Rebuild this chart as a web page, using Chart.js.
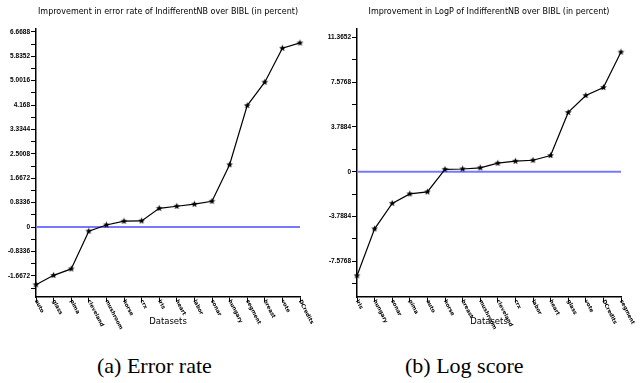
<!DOCTYPE html>
<html>
<head>
<meta charset="utf-8">
<script src="https://cdn.jsdelivr.net/npm/chart.js@4.4.0/dist/chart.umd.min.js"></script>
<style>
  body { margin: 0; background: #fff; width: 641px; height: 383px; position: relative; overflow: hidden; }
  .panel { position: absolute; top: 0; height: 331px; }
  #p1 { left: 0; width: 320px; }
  #p2 { left: 320px; width: 321px; }
  .cap { position: absolute; top: 353px; font: 22px "Liberation Serif", "Times New Roman", serif; color: #000; white-space: nowrap; }
</style>
</head>
<body>
<div class="panel" id="p1"><canvas id="errChart" width="320" height="331"></canvas></div>
<div class="panel" id="p2"><canvas id="logChart" width="321" height="331"></canvas></div>
<div class="cap" style="left:97px">(a) Error rate</div>
<div class="cap" style="left:405px">(b) Log score</div>
<script>
// ── Data ─────────────────────────────────────────────────────
const errorCategories = ['auto', 'glass', 'pima', 'cleveland', 'mushroom', 'horse', 'crx', 'iris',
  'heart', 'labor', 'sonar', 'hungary', 'segment', 'breast', 'vote', 'DCredits'];
const errorValues = [-1.97, -1.65, -1.43, -0.14, 0.07, 0.20, 0.21, 0.64,
  0.71, 0.78, 0.88, 2.13, 4.15, 4.95, 6.11, 6.29];
const errorTicks = [-1.6672, -0.8336, 0, 0.8336, 1.6672, 2.5008, 3.3344, 4.168, 5.0016, 5.8352, 6.6688];
const errorMinorTicks = [-2.084, -1.2504, -0.4168, 0.4168, 1.2504, 2.084, 2.9176, 3.7512, 4.5848, 5.4184, 6.252];

const logpCategories = ['iris', 'hungary', 'sonar', 'pima', 'auto', 'horse', 'breast', 'mushroom',
  'cleveland', 'crx', 'labor', 'heart', 'glass', 'vote', 'DCredits', 'segment'];
const logpValues = [-8.81, -4.84, -2.68, -1.88, -1.71, 0.20, 0.23, 0.33,
  0.72, 0.89, 0.97, 1.37, 5.02, 6.45, 7.13, 10.13];
const logpTicks = [-7.5768, -3.7884, 0, 3.7884, 7.5768, 11.3652];
const logpMinorTicks = [-9.471, -5.6826, -1.8942, 1.8942, 5.6826, 9.471];

// ── Helpers ──────────────────────────────────────────────────
function makeStar(r) {
  const c = document.createElement('canvas');
  c.width = c.height = Math.ceil(r * 2 + 2);
  const g = c.getContext('2d');
  g.translate(c.width / 2, c.height / 2);
  g.beginPath();
  for (let i = 0; i < 10; i++) {
    const a = -Math.PI / 2 + i * Math.PI / 5;
    const rr = i % 2 ? r * 0.45 : r;
    g.lineTo(rr * Math.cos(a), rr * Math.sin(a));
  }
  g.closePath();
  g.fillStyle = '#000';
  g.fill();
  return c;
}
const star = makeStar(3.5);

// blue line at zero, drawn through the y scale
const zeroLine = {
  id: 'zeroLine',
  beforeDatasetsDraw(chart) {
    const { ctx, chartArea, scales } = chart;
    const y = scales.y.getPixelForValue(0);
    ctx.save();
    ctx.strokeStyle = '#7878ff';
    ctx.lineWidth = 2;
    ctx.beginPath();
    ctx.moveTo(chartArea.left, y);
    ctx.lineTo(chartArea.right, y);
    ctx.stroke();
    ctx.restore();
  }
};

// dataset names slanting down to the right from each tick
const slantLabels = {
  id: 'slantLabels',
  afterDraw(chart) {
    const { ctx } = chart;
    const x = chart.scales.x;
    ctx.save();
    ctx.font = 'bold 5.5px "DejaVu Sans", sans-serif';
    ctx.fillStyle = '#000';
    ctx.textAlign = 'left';
    ctx.textBaseline = 'middle';
    chart.data.labels.forEach((lab, i) => {
      ctx.save();
      ctx.translate(x.getPixelForValue(i), x.top + 3);
      ctx.rotate(63 * Math.PI / 180);
      ctx.fillText(lab, 0, 0);
      ctx.restore();
    });
    ctx.restore();
  }
};

function buildChart(id, title, labels, values, majors, minors, min, max, yWidth) {
  const ctx = document.getElementById(id).getContext('2d');
  return new Chart(ctx, {
    type: 'line',
    data: {
      labels: labels,
      datasets: [{
        data: values,
        borderColor: '#000',
        borderWidth: 1.2,
        pointStyle: star,
        pointRadius: 3.5,
        pointBackgroundColor: '#000',
        tension: 0,
        fill: false,
      }],
    },
    options: {
      responsive: false,
      animation: false,
      layout: { padding: { left: 0, right: 20, top: 0, bottom: 0 } },
      plugins: {
        legend: { display: false },
        tooltip: { enabled: false },
        title: {
          display: true,
          text: title,
          fullSize: false,
          color: '#000',
          font: { family: '"DejaVu Sans", sans-serif', size: 8, weight: 'normal' },
          padding: { top: 7, bottom: 12 },
        },
      },
      scales: {
        x: {
          type: 'category',
          offset: false,
          afterFit: (s) => { s.height = 34; },
          border: { display: true, color: '#000', width: 1.5 },
          grid: { drawOnChartArea: false, drawTicks: true, tickLength: 5, color: '#000' },
          ticks: { display: false },
          title: {
            display: true,
            text: 'Datasets',
            color: '#000',
            font: { family: '"DejaVu Sans", sans-serif', size: 8.5 },
            padding: { top: 0, bottom: 4 },
          },
        },
        y: {
          min: min,
          max: max,
          afterFit: (s) => { s.width = yWidth; },
          afterBuildTicks: (s) => {
            s.ticks = majors.concat(minors).sort((a, b) => a - b).map((v) => ({ value: v }));
          },
          border: { display: true, color: '#000', width: 1.5 },
          grid: { drawOnChartArea: false, drawTicks: true, tickLength: 5, color: '#000' },
          ticks: {
            autoSkip: false,
            padding: 1,
            color: '#000',
            font: { family: '"Liberation Sans", sans-serif', size: 6.5, weight: 'bold' },
            callback: (v) => (majors.includes(v) ? String(v) : ''),
          },
        },
      },
    },
    plugins: [zeroLine, slantLabels],
  });
}

buildChart('errChart', 'Improvement in error rate of IndifferentNB over BIBL (in percent)',
  errorCategories, errorValues, errorTicks, errorMinorTicks, -2.39, 6.78, 36);
buildChart('logChart', 'Improvement in LogP of IndifferentNB over BIBL (in percent)',
  logpCategories, logpValues, logpTicks, logpMinorTicks, -10.61, 12.12, 37);
</script>
</body>
</html>
